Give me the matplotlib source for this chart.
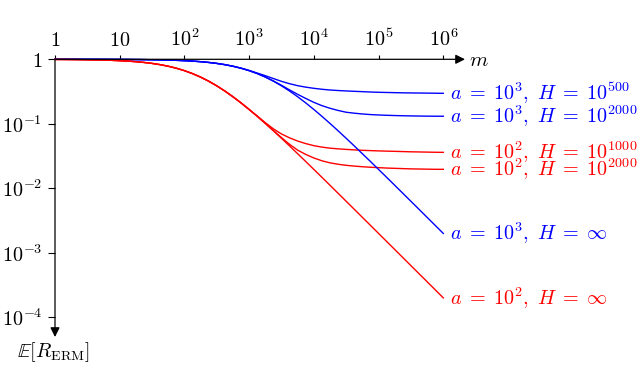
import numpy as np
import matplotlib
matplotlib.use("Agg")
import matplotlib.pyplot as plt

plt.rcParams['mathtext.fontset'] = 'cm'
plt.rcParams['font.family'] = 'serif'
plt.rcParams['font.serif'] = ['DejaVu Serif']

# sample points m = 10^(j/8), j = 0..48
m = [10 ** (j / 8) for j in range(49)]

red_inf = [0.995, 0.9934, 0.9912, 0.9883, 0.9844, 0.9794, 0.9727, 0.9639,
           0.9524, 0.9375, 0.9184, 0.8940, 0.8635, 0.8259, 0.7805, 0.7273,
           0.6667, 0.6000, 0.5293, 0.4575, 0.3874, 0.3217, 0.2624, 0.2106,
           0.1667, 0.1304, 0.1011, 0.0778, 0.0595, 0.0453, 0.0343, 0.0260,
           0.0196, 0.01478, 0.01112, 0.00836, 0.00628, 0.00472, 0.00354, 0.00266,
           0.001996, 0.001498, 0.001124, 0.000843, 0.000632, 0.000474, 0.000356, 0.000267,
           0.000200]
red_h1000 = [0.995, 0.9934, 0.9912, 0.9883, 0.9844, 0.9794, 0.9727, 0.9639,
             0.9524, 0.9375, 0.9184, 0.8940, 0.8635, 0.8259, 0.7805, 0.7273,
             0.6667, 0.6000, 0.5293, 0.4575, 0.3874, 0.3217, 0.2624, 0.2106,
             0.1667, 0.132, 0.104, 0.0835, 0.0695, 0.0605, 0.0540, 0.0493,
             0.0458, 0.0435, 0.0419, 0.0409, 0.0401, 0.0394, 0.0388, 0.0384,
             0.0380, 0.0377, 0.0374, 0.0371, 0.0368, 0.0366, 0.0364, 0.0362,
             0.0361]
red_h2000 = [0.995, 0.9934, 0.9912, 0.9883, 0.9844, 0.9794, 0.9727, 0.9639,
             0.9524, 0.9375, 0.9184, 0.8940, 0.8635, 0.8259, 0.7805, 0.7273,
             0.6667, 0.6000, 0.5293, 0.4575, 0.3874, 0.3217, 0.2624, 0.2106,
             0.1667, 0.131, 0.1015, 0.0785, 0.061, 0.0480, 0.0390, 0.0335,
             0.0295, 0.0267, 0.0248, 0.0236, 0.0227, 0.0221, 0.0216, 0.0212,
             0.0209, 0.0206, 0.0204, 0.0202, 0.0200, 0.0199, 0.0198, 0.0197,
             0.0197]
blue_inf = [0.9995, 0.9993, 0.9991, 0.9988, 0.9984, 0.9979, 0.9972, 0.9963,
            0.995, 0.9934, 0.9912, 0.9883, 0.9844, 0.9794, 0.9727, 0.9639,
            0.9524, 0.9375, 0.9184, 0.8940, 0.8635, 0.8259, 0.7805, 0.7273,
            0.6667, 0.6000, 0.5293, 0.4575, 0.3874, 0.3217, 0.2624, 0.2106,
            0.1667, 0.1304, 0.1011, 0.0778, 0.0595, 0.0453, 0.0343, 0.0260,
            0.0196, 0.01478, 0.01112, 0.00836, 0.00628, 0.00472, 0.00354, 0.00266,
            0.001996]
blue_h500 = [0.9995, 0.9993, 0.9991, 0.9988, 0.9984, 0.9979, 0.9972, 0.9963,
             0.995, 0.9934, 0.9912, 0.9883, 0.9844, 0.9794, 0.9727, 0.9639,
             0.9524, 0.9375, 0.9184, 0.8940, 0.8635, 0.8259, 0.7805, 0.730,
             0.672, 0.612, 0.557, 0.503, 0.455, 0.418, 0.390, 0.370,
             0.355, 0.343, 0.334, 0.328, 0.323, 0.319, 0.315, 0.311,
             0.308, 0.306, 0.304, 0.302, 0.301, 0.300, 0.299, 0.298,
             0.297]
blue_h2000 = [0.9995, 0.9993, 0.9991, 0.9988, 0.9984, 0.9979, 0.9972, 0.9963,
              0.995, 0.9934, 0.9912, 0.9883, 0.9844, 0.9794, 0.9727, 0.9639,
              0.9524, 0.9375, 0.9184, 0.8940, 0.8635, 0.8259, 0.7805, 0.7273,
              0.667, 0.602, 0.532, 0.462, 0.395, 0.335, 0.286, 0.247,
              0.215, 0.191, 0.174, 0.161, 0.151, 0.146, 0.142, 0.139,
              0.137, 0.1355, 0.1343, 0.1333, 0.1325, 0.1319, 0.1314, 0.1311,
              0.131]

series = [
    (blue_h500, 'blue', r'$a\;=\;10^3,\ H\;=\;10^{500}$'),
    (blue_h2000, 'blue', r'$a\;=\;10^3,\ H\;=\;10^{2000}$'),
    (red_h1000, 'red', r'$a\;=\;10^2,\ H\;=\;10^{1000}$'),
    (red_h2000, 'red', r'$a\;=\;10^2,\ H\;=\;10^{2000}$'),
    (blue_inf, 'blue', r'$a\;=\;10^3,\ H\;=\;\infty$'),
    (red_inf, 'red', r'$a\;=\;10^2,\ H\;=\;\infty$'),
]

xticks = [1, 10, 1e2, 1e3, 1e4, 1e5, 1e6]
xticklabels = ['$1$', '$10$', '$10^2$', '$10^3$', '$10^4$', '$10^5$', '$10^6$']
yticks = [1, 1e-1, 1e-2, 1e-3, 1e-4]
yticklabels = ['$1$', '$10^{-1}$', '$10^{-2}$', '$10^{-3}$', '$10^{-4}$']

W, H = 640, 369
fig = plt.figure(figsize=(W / 100, H / 100), dpi=100)
x0, x1, y0, y1 = 55, 443.3, 59.3, 317.3
ax = fig.add_axes([x0 / W, 1 - y1 / H, (x1 - x0) / W, (y1 - y0) / H])
ax.set_xscale('log')
ax.set_yscale('log')
ax.set_xlim(1, 1e6)
ax.set_ylim(1e-4, 1)

for vals, col, lab in series:
    ax.plot(m, vals, color=col, lw=1.0, clip_on=False)
    ax.annotate(lab, xy=(m[-1], vals[-1]), xytext=(5, 0), textcoords='offset points',
                color=col, fontsize=14.5, va='center', ha='left', annotation_clip=False)

for s in ['top', 'bottom', 'right', 'left']:
    ax.spines[s].set_visible(False)

ax.xaxis.tick_top()
ax.set_xticks(xticks)
ax.set_xticklabels(xticklabels, fontsize=14.5)
ax.set_yticks(yticks)
ax.set_yticklabels(yticklabels, fontsize=14.5)
ax.minorticks_off()
ax.tick_params(axis='x', length=3, width=0.8, pad=4, color='black')
ax.tick_params(axis='y', length=5, width=0.8, pad=4, color='black')

# axis arrows
ax.annotate('', xy=((465 - x0) / (x1 - x0), 1), xytext=(0, 1), xycoords='axes fraction',
            arrowprops=dict(arrowstyle='-|>', color='black', lw=0.9, mutation_scale=14,
                            shrinkA=0, shrinkB=0))
ax.annotate('', xy=(0, -(337 - y1) / (y1 - y0)), xytext=(0, 1), xycoords='axes fraction',
            arrowprops=dict(arrowstyle='-|>', color='black', lw=0.9, mutation_scale=14,
                            shrinkA=0, shrinkB=0))

fig.text(469 / W, 1 - 60 / H, '$m$', fontsize=15, va='center', ha='left')
fig.text(54 / W, 1 - 352 / H, r'$\mathbb{E}[R_{\mathrm{ERM}}]$', fontsize=14.5,
         va='center', ha='center')

fig.savefig('out.png', dpi=100)
